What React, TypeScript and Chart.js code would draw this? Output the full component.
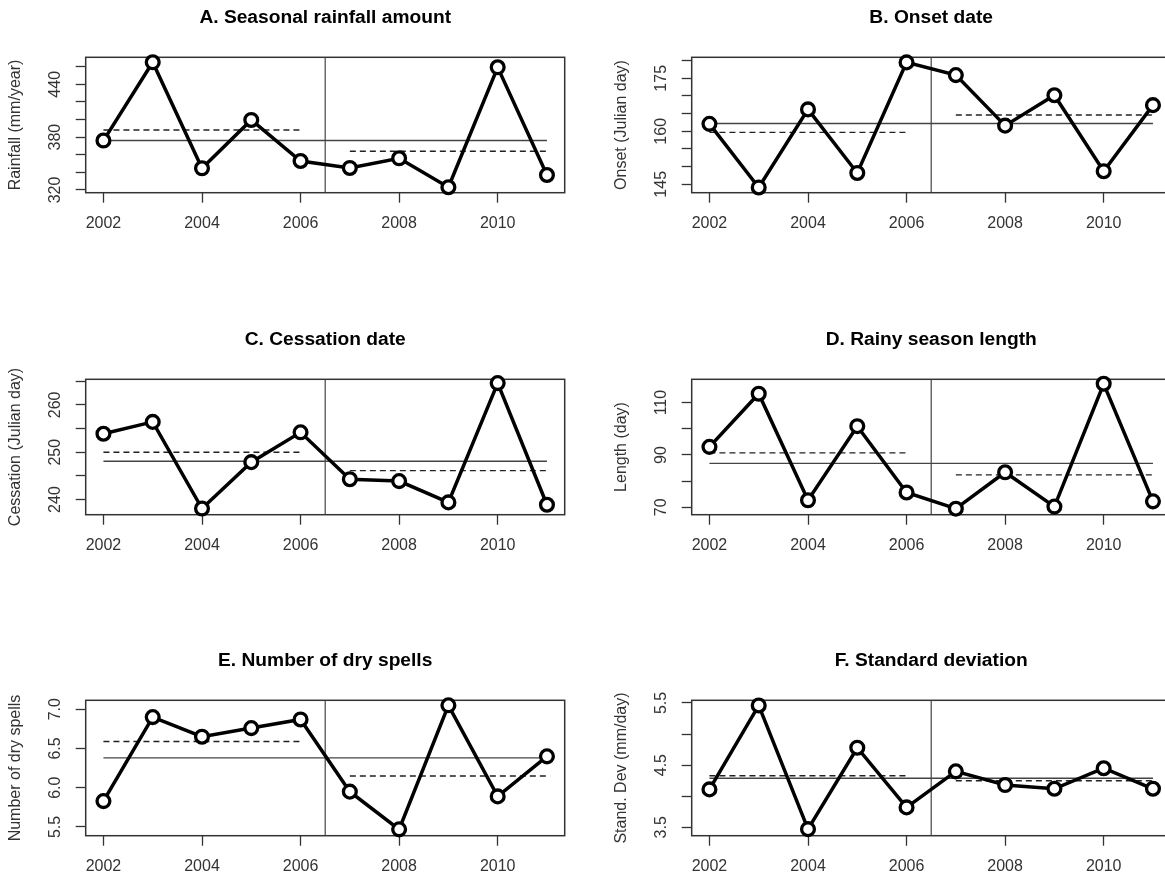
import React, { useEffect, useRef } from "react";
import { Chart, registerables } from "chart.js";

Chart.register(...registerables);

// ---------- data ----------
const years = [2002, 2003, 2004, 2005, 2006, 2007, 2008, 2009, 2010, 2011];
const xTickValues = [2002, 2004, 2006, 2008, 2010];
const xRange = [2001.64, 2011.36];
const breakYear = 2006.5;
const firstPeriod = [2002, 2006];
const secondPeriod = [2007, 2011];

const titles = [
  "A. Seasonal rainfall amount",
  "B. Onset date",
  "C. Cessation date",
  "D. Rainy season length",
  "E. Number of dry spells",
  "F. Standard deviation",
];
const yTitles = [
  "Rainfall (mm/year)",
  "Onset (Julian day)",
  "Cessation (Julian day)",
  "Length (day)",
  "Number of dry spells",
  "Stand. Dev (mm/day)",
];

const rainfall = [376.1, 465.0, 344.6, 399.5, 352.9, 345.0, 356.0, 323.1, 459.3, 337.0];
const onset = [162.1, 144.1, 166.2, 148.2, 179.5, 175.9, 161.6, 170.2, 148.7, 167.4];
const cessation = [253.9, 256.4, 238.1, 247.9, 254.2, 244.3, 243.9, 239.4, 264.6, 238.9];
const seasonLength = [93.1, 113.4, 72.7, 101.0, 75.7, 69.5, 83.4, 70.3, 117.2, 72.3];
const drySpells = [5.83, 6.9, 6.65, 6.76, 6.87, 5.95, 5.47, 7.05, 5.89, 6.4];
const stdDev = [4.11, 5.46, 3.47, 4.78, 3.82, 4.4, 4.18, 4.12, 4.45, 4.12];

// reference levels: [whole period, 2002-2006, 2007-2011]
const rainfallMeans = [376.1, 388.1, 363.9];
const onsetMeans = [162.2, 159.7, 164.6];
const cessationMeans = [248.1, 250.0, 246.1];
const lengthMeans = [86.8, 90.8, 82.4];
const drySpellMeans = [6.38, 6.59, 6.15];
const stdDevMeans = [4.29, 4.33, 4.25];

// y axes: tick values, tick labels, range
const rainfallYTicks = [320, 340, 360, 380, 400, 420, 440, 460];
const rainfallYLabels = ["320", "", "", "380", "", "", "440", ""];
const rainfallYRange = [316.9, 470.65];

const onsetYTicks = [145, 150, 155, 160, 165, 170, 175, 180];
const onsetYLabels = ["145", "", "", "160", "", "", "175", ""];
const onsetYRange = [142.62, 180.94];

const cessationYTicks = [240, 245, 250, 255, 260, 265];
const cessationYLabels = ["240", "", "250", "", "260", ""];
const cessationYRange = [236.8, 265.4];

const lengthYTicks = [70, 80, 90, 100, 110];
const lengthYLabels = ["70", "", "90", "", "110"];
const lengthYRange = [67.2, 118.9];

const drySpellYTicks = [5.5, 6.0, 6.5, 7.0];
const drySpellYLabels = ["5.5", "6.0", "6.5", "7.0"];
const drySpellYRange = [5.389, 7.114];

const stdDevYTicks = [3.5, 4.0, 4.5, 5.0, 5.5];
const stdDevYLabels = ["3.5", "", "4.5", "", "5.5"];
const stdDevYRange = [3.365, 5.543];

// ---------- layout ----------
const FONT = "'Liberation Sans', Arial, Helvetica, sans-serif";
const W = 606;
const H = 322;
const BOX = { left: 85.7, right: 564.7, top: 57.3, bottom: 192.7 };
const colLeft = [0, 606];
const rowTop = [0, 322, 643];

type PanelCfg = {
  title: string;
  yTitle: string;
  values: number[];
  means: number[];
  yTicks: number[];
  yLabels: string[];
  yRange: number[];
};

const panels: PanelCfg[] = [
  { title: titles[0], yTitle: yTitles[0], values: rainfall, means: rainfallMeans, yTicks: rainfallYTicks, yLabels: rainfallYLabels, yRange: rainfallYRange },
  { title: titles[1], yTitle: yTitles[1], values: onset, means: onsetMeans, yTicks: onsetYTicks, yLabels: onsetYLabels, yRange: onsetYRange },
  { title: titles[2], yTitle: yTitles[2], values: cessation, means: cessationMeans, yTicks: cessationYTicks, yLabels: cessationYLabels, yRange: cessationYRange },
  { title: titles[3], yTitle: yTitles[3], values: seasonLength, means: lengthMeans, yTicks: lengthYTicks, yLabels: lengthYLabels, yRange: lengthYRange },
  { title: titles[4], yTitle: yTitles[4], values: drySpells, means: drySpellMeans, yTicks: drySpellYTicks, yLabels: drySpellYLabels, yRange: drySpellYRange },
  { title: titles[5], yTitle: yTitles[5], values: stdDev, means: stdDevMeans, yTicks: stdDevYTicks, yLabels: stdDevYLabels, yRange: stdDevYRange },
];

function measure(text: string, font: string): number {
  const c = document.createElement("canvas").getContext("2d");
  if (!c) return text.length * 9;
  c.font = font;
  return c.measureText(text).width;
}

const framePlugin = {
  id: "frame",
  beforeDatasetsDraw(chart: any) {
    const { ctx, chartArea: a } = chart;
    ctx.save();
    ctx.strokeStyle = "#333";
    ctx.lineWidth = 1.5;
    ctx.strokeRect(a.left, a.top, a.right - a.left, a.bottom - a.top);
    ctx.restore();
  },
};

const yTitlePlugin = {
  id: "ytitle",
  afterDraw(chart: any, _args: any, opts: any) {
    const { ctx, chartArea: a } = chart;
    ctx.save();
    ctx.translate(opts.x, (a.top + a.bottom) / 2);
    ctx.rotate(-Math.PI / 2);
    ctx.font = `16px ${FONT}`;
    ctx.fillStyle = "#333";
    ctx.textAlign = "center";
    ctx.textBaseline = "middle";
    ctx.fillText(opts.text, 0, 0);
    ctx.restore();
  },
};

function Panel({ cfg, left, top }: { cfg: PanelCfg; left: number; top: number }) {
  const ref = useRef<HTMLCanvasElement | null>(null);

  useEffect(() => {
    const canvas = ref.current;
    if (!canvas) return;
    const widest = Math.max(...cfg.yLabels.map((l) => measure(l, `16px ${FONT}`)));
    const yPad = 20 - widest / 2;
    const tickGrid = {
      display: true,
      drawOnChartArea: false,
      drawTicks: true,
      tickLength: 10,
      tickWidth: 1.3,
      tickColor: "#333",
    };
    const chart = new Chart(canvas, {
      type: "line",
      data: {
        datasets: [
          {
            label: cfg.title,
            data: years.map((x, i) => ({ x, y: cfg.values[i] })),
            borderColor: "#000",
            borderWidth: 3.5,
            pointRadius: 6.4,
            pointBorderWidth: 3.3,
            pointBackgroundColor: "#fff",
            pointBorderColor: "#000",
            tension: 0,
            clip: false as any,
          },
          {
            label: "mean",
            data: [
              { x: years[0], y: cfg.means[0] },
              { x: years[years.length - 1], y: cfg.means[0] },
            ],
            borderColor: "#444",
            borderWidth: 1.4,
            pointRadius: 0,
          },
          {
            label: "mean 1",
            data: [
              { x: firstPeriod[0], y: cfg.means[1] },
              { x: firstPeriod[1], y: cfg.means[1] },
            ],
            borderColor: "#222",
            borderWidth: 1.4,
            borderDash: [6, 4],
            pointRadius: 0,
          },
          {
            label: "mean 2",
            data: [
              { x: secondPeriod[0], y: cfg.means[2] },
              { x: secondPeriod[1], y: cfg.means[2] },
            ],
            borderColor: "#222",
            borderWidth: 1.4,
            borderDash: [6, 4],
            pointRadius: 0,
          },
          {
            label: "break",
            data: [
              { x: breakYear, y: cfg.yRange[0] },
              { x: breakYear, y: cfg.yRange[1] },
            ],
            borderColor: "#444",
            borderWidth: 1.2,
            pointRadius: 0,
          },
        ],
      },
      options: {
        responsive: false,
        animation: false,
        events: [],
        layout: { padding: { left: 0, top: 0, right: W - BOX.right, bottom: 0 } },
        plugins: {
          legend: { display: false },
          tooltip: { enabled: false },
          title: {
            display: true,
            text: cfg.title,
            fullSize: false,
            color: "#000",
            font: { family: FONT, size: 19.2, weight: "bold", lineHeight: 1.2 },
            padding: { top: 5.8, bottom: BOX.top - 5.8 - 19.2 * 1.2 },
          },
          ytitle: { text: cfg.yTitle, x: 15.5 },
        } as any,
        scales: {
          x: {
            type: "linear",
            position: "bottom",
            bounds: "data",
            min: xRange[0],
            max: xRange[1],
            afterBuildTicks: (s: any) => {
              s.ticks = xTickValues.map((v) => ({ value: v }));
            },
            afterFit: (s: any) => {
              s.height = H - BOX.bottom;
              s.paddingLeft = 0;
              s.paddingRight = 0;
            },
            grid: tickGrid,
            border: { display: false },
            ticks: {
              autoSkip: false,
              minRotation: 0,
              maxRotation: 0,
              padding: 11.7,
              color: "#333",
              font: { family: FONT, size: 16 },
              callback: (v: any) => String(v),
            },
          },
          y: {
            type: "linear",
            position: "left",
            bounds: "data",
            min: cfg.yRange[0],
            max: cfg.yRange[1],
            afterBuildTicks: (s: any) => {
              s.ticks = cfg.yTicks.map((v) => ({ value: v }));
            },
            afterFit: (s: any) => {
              s.width = BOX.left;
              s.paddingTop = 0;
              s.paddingBottom = 0;
            },
            grid: tickGrid,
            border: { display: false },
            ticks: {
              autoSkip: false,
              minRotation: 90,
              maxRotation: 90,
              crossAlign: "center",
              padding: yPad,
              color: "#333",
              font: { family: FONT, size: 16 },
              callback: (_v: any, i: number) => cfg.yLabels[i],
            },
          },
        } as any,
      },
      plugins: [framePlugin, yTitlePlugin],
    } as any);
    return () => chart.destroy();
  }, [cfg]);

  return (
    <canvas
      ref={ref}
      width={W}
      height={H}
      style={{ position: "absolute", left, top, width: W, height: H, display: "block" }}
    />
  );
}

export default function App() {
  return (
    <div
      style={{
        position: "absolute",
        left: 0,
        top: 0,
        width: 1165,
        height: 879,
        overflow: "hidden",
        background: "#fff",
      }}
    >
      {panels.map((p, i) => (
        <Panel key={i} cfg={p} left={colLeft[i % 2]} top={rowTop[Math.floor(i / 2)]} />
      ))}
    </div>
  );
}
